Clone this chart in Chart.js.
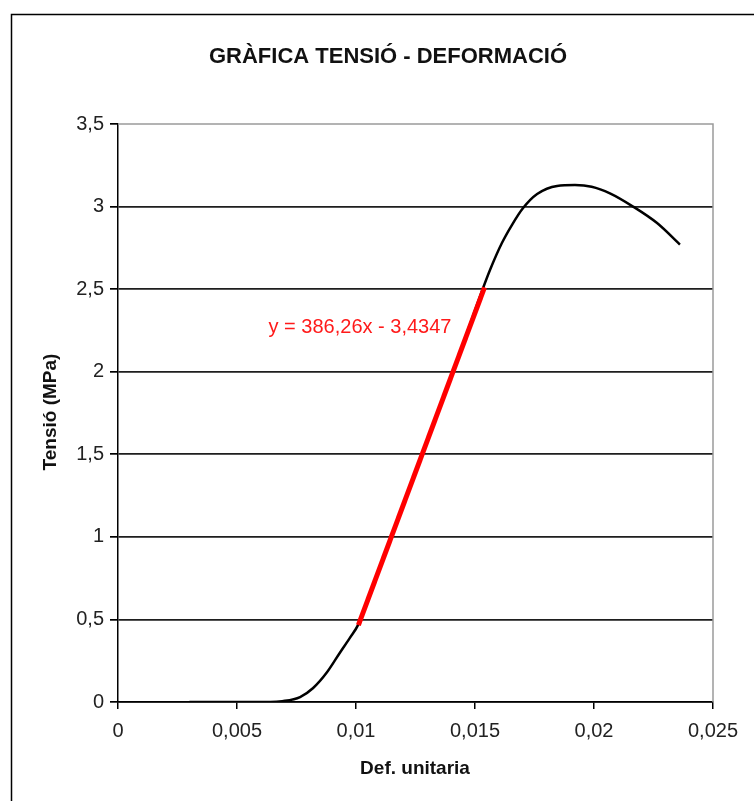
<!DOCTYPE html>
<html>
<head>
<meta charset="utf-8">
<script src="https://cdn.jsdelivr.net/npm/chart.js@4"></script>
<style>
  body { margin: 0; background: #fff; }
  #wrap { width: 754px; height: 801px; position: relative; }
</style>
</head>
<body>
<div id="wrap"><canvas id="grafica"></canvas></div>
<script>
// dades llegides del gràfic
const defUnitaria = [0.003, 0.0064, 0.0069, 0.00765, 0.0082, 0.00878, 0.00933, 0.00975, 0.0101, 0.0115, 0.013, 0.0145, 0.01534, 0.01563, 0.01613, 0.01655, 0.01702, 0.01761, 0.01845, 0.0192, 0.0199, 0.02067, 0.02164, 0.02265, 0.02361];
const tensio = [0, 0, 0.005, 0.03, 0.085, 0.18, 0.30, 0.39, 0.47, 1.01, 1.59, 2.17, 2.507, 2.616, 2.779, 2.888, 2.991, 3.076, 3.125, 3.13, 3.12, 3.08, 3.0, 2.90, 2.77];

// recta de regressió (tram elàstic)
const rectaX = [0.0101, 0.0154];
const rectaY = [0.466, 2.51];
const equacio = 'y = 386,26x - 3,4347';

const xTickLabels = ['0', '0,005', '0,01', '0,015', '0,02', '0,025'];
const yTickLabels = ['0', '0,5', '1', '1,5', '2', '2,5', '3', '3,5'];

const titol = 'GRÀFICA TENSIÓ - DEFORMACIÓ';
const titolX = 'Def. unitaria';
const titolY = 'Tensió (MPa)';

const FONT = '"Liberation Sans", Arial, sans-serif';

// marc, títols i equació
const textos = {
    id: 'textos',
    afterDraw(chart) {
        const ctx = chart.ctx;
        const a = chart.chartArea;
        ctx.save();
        // marc exterior
        ctx.strokeStyle = '#000';
        ctx.lineWidth = 1.5;
        ctx.strokeRect(11.5, 14.5, 800, 820);
        // vora superior i dreta de l'àrea
        ctx.strokeStyle = '#9a9a9a';
        ctx.lineWidth = 1.5;
        ctx.beginPath();
        ctx.moveTo(a.left, a.top);
        ctx.lineTo(a.right, a.top);
        ctx.lineTo(a.right, a.bottom);
        ctx.stroke();

        ctx.fillStyle = '#111';
        ctx.textAlign = 'center';
        ctx.textBaseline = 'middle';
        ctx.font = 'bold 22px ' + FONT;
        ctx.fillText(titol, 388, 57);

        ctx.font = 'bold 19px ' + FONT;
        ctx.fillText(titolX, 415, 769);

        ctx.save();
        ctx.translate(51, 412);
        ctx.rotate(-Math.PI / 2);
        ctx.fillText(titolY, 0, 0);
        ctx.restore();

        ctx.fillStyle = '#ff1a1a';
        ctx.font = '20px ' + FONT;
        ctx.fillText(equacio, 360, 327);
        ctx.restore();
    }
};

const ctx = document.getElementById('grafica').getContext('2d');
const grafica = new Chart(ctx, {
    type: 'line',
    data: {
        datasets: [{
            label: 'Recta',
            data: rectaX.map((x, i) => ({ x: x, y: rectaY[i] })),
            borderColor: '#ff0000',
            borderWidth: 5,
            pointRadius: 0,
            tension: 0
        }, {
            label: 'Tensió',
            data: defUnitaria.map((x, i) => ({ x: x, y: tensio[i] })),
            borderColor: '#000',
            borderWidth: 2.5,
            pointRadius: 0,
            cubicInterpolationMode: 'monotone'
        }]
    },
    options: {
        responsive: true,
        maintainAspectRatio: false,
        animation: false,
        layout: { padding: { left: 0, right: 41, top: 124, bottom: 0 } },
        plugins: {
            legend: { display: false },
            tooltip: { enabled: false }
        },
        scales: {
            x: {
                type: 'linear',
                min: 0,
                max: 0.025,
                afterFit: s => { s.height = 99; },
                ticks: {
                    stepSize: 0.005,
                    padding: 10,
                    color: '#222',
                    font: { family: FONT, size: 20 },
                    maxRotation: 0,
                    callback: (v, i) => xTickLabels[i]
                },
                grid: { drawOnChartArea: false, drawTicks: true, tickLength: 7, tickColor: '#000', lineWidth: 1.5 },
                border: { color: '#000', width: 1.5 }
            },
            y: {
                min: 0,
                max: 3.5,
                afterFit: s => { s.width = 118; },
                ticks: {
                    stepSize: 0.5,
                    padding: 6,
                    color: '#222',
                    font: { family: FONT, size: 20 },
                    callback: (v, i) => yTickLabels[i]
                },
                grid: {
                    color: c => (c.tick && c.tick.value === 3.5) ? 'rgba(0,0,0,0)' : '#1e1e1e',
                    lineWidth: 1.7,
                    tickLength: 8,
                    tickColor: '#000'
                },
                border: { color: '#000', width: 1.5 }
            }
        }
    },
    plugins: [textos]
});
</script>
</body>
</html>
